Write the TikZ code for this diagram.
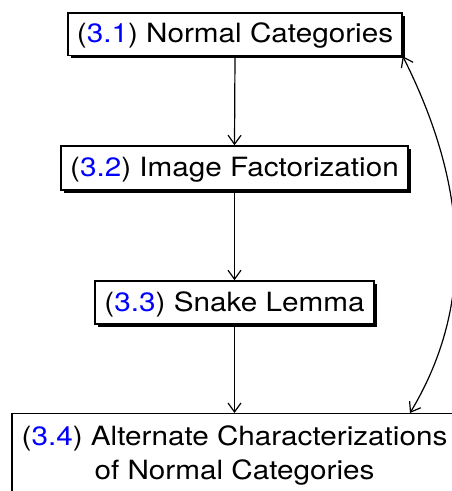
\documentclass[tikz,border=0pt]{standalone}
\usepackage{fontspec}
\setmainfont{TeX Gyre Heros}[FakeStretch=1.12]
\usetikzlibrary{arrows.meta,shadows}
\definecolor{refblue}{RGB}{0,0,255}
\newcommand{\secnum}[1]{(\textcolor{refblue}{#1})}
\begin{document}
\begin{tikzpicture}[x=1pt,y=1pt,
  secbox/.style={draw=black, line width=1.5pt, fill=white, inner sep=0pt,
    font=\fontsize{26.5}{34}\selectfont, text height=20pt, text depth=2.5pt,
    drop shadow={shadow xshift=3pt, shadow yshift=-3pt, fill=black, opacity=1}},
  link/.style={line width=1.2pt, -{Straight Barb[length=9pt,width=13pt]}},
  dlink/.style={line width=1.2pt, {Straight Barb[length=9pt,width=13pt]}-{Straight Barb[length=9pt,width=13pt]}}
]
\useasboundingbox (0,0) rectangle (451,491);
\node[secbox, minimum width=334pt, minimum height=42.5pt] (b1) at (235,456.75) {\secnum{3.1} Normal Categories};
\node[secbox, minimum width=347pt, minimum height=44pt] (b2) at (234.5,323) {\secnum{3.2} Image Factorization};
\node[secbox, minimum width=279pt, minimum height=43pt] (b3) at (234.5,188.5) {\secnum{3.3} Snake Lemma};
\node[draw=black, line width=1.5pt, fill=white, inner xsep=0pt, inner ysep=12pt,
  minimum width=445pt, align=center, anchor=north,
  font=\fontsize{26.5}{34}\selectfont] (b4) at (234.5,78)
  {\secnum{3.4} Alternate Characterizations\\of Normal Categories};
\draw[link] (b1.south) -- (b2.north);
\draw[link] (b2.south) -- (b3.north);
\draw[link] (b3.south) -- (b3.south |- b4.north);
\coordinate (c4) at (410,78);
\draw[dlink] (b1.south east) .. controls (465,311) and (478,191) .. (c4);
\end{tikzpicture}
\end{document}
